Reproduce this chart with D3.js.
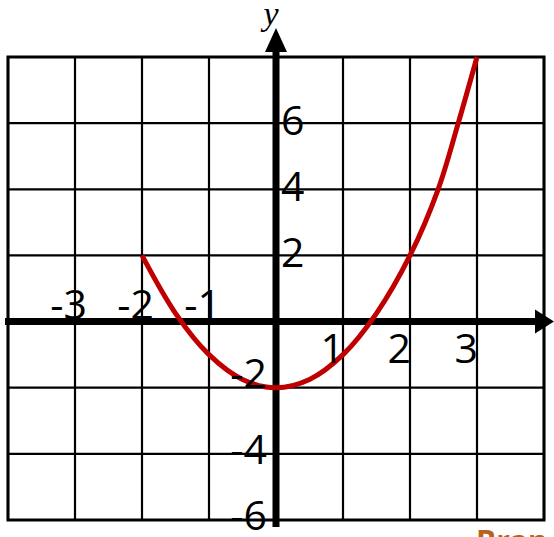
<!DOCTYPE html>
<html>
<head>
<meta charset="utf-8">
<script src="https://cdn.jsdelivr.net/npm/d3@7"></script>
<style>
  html, body { margin: 0; padding: 0; background: #fff; overflow: hidden; }
</style>
</head>
<body>
<div id="chart"></div>
<script>
// Grid positions (data units)
const xGrid = [-4, -3, -2, -1, 0, 1, 2, 3, 4];
const yGrid = [-6, -4, -2, 0, 2, 4, 6, 8];

// Tick labels
const xNegLabels = [-3, -2, -1];
const xPosLabels = [1, 2, 3];
const yPosLabels = [2, 4, 6];
const yNegLabels = [-2, -4, -6];

// Points
const curveX = [-2, -1.5, -1, -0.5, 0, 0.5, 1, 1.5, 2, 2.42, 2.72, 3];
const curveY = [2, 0.25, -1, -1.75, -2, -1.75, -1, 0.25, 2, 4, 6, 8];

const width = 554;
const height = 537;

const x = d3.scaleLinear().domain([-4, 4]).range([8, 544]);
const y = d3.scaleLinear().domain([-6, 8]).range([520, 57]);

const svg = d3.select("#chart").append("svg")
    .attr("width", width)
    .attr("height", height);

// Cuadrícula
const grid = svg.append("g").attr("stroke", "#000").attr("stroke-width", 2.2);
grid.selectAll("line.v")
    .data(xGrid)
    .join("line")
    .attr("class", "v")
    .attr("x1", d => x(d)).attr("x2", d => x(d))
    .attr("y1", y(8)).attr("y2", y(-6));
grid.selectAll("line.h")
    .data(yGrid)
    .join("line")
    .attr("class", "h")
    .attr("x1", x(-4)).attr("x2", x(4))
    .attr("y1", d => y(d)).attr("y2", d => y(d));
grid.append("rect")
    .attr("x", x(-4)).attr("y", y(8))
    .attr("width", x(4) - x(-4)).attr("height", y(-6) - y(8))
    .attr("fill", "none")
    .attr("stroke-width", 3);

// Ejes
const axes = svg.append("g");
axes.append("line")
    .attr("x1", 5).attr("x2", 540)
    .attr("y1", y(0)).attr("y2", y(0))
    .attr("stroke", "#000").attr("stroke-width", 7);
axes.append("path")
    .attr("d", `M${width},${y(0)} L535,${y(0) - 12} L535,${y(0) + 12} Z`)
    .attr("fill", "#000");
axes.append("line")
    .attr("x1", x(0)).attr("x2", x(0))
    .attr("y1", 48).attr("y2", 527)
    .attr("stroke", "#000").attr("stroke-width", 7);
axes.append("path")
    .attr("d", `M${x(0)},28 L${x(0) - 11},52 L${x(0) + 11},52 Z`)
    .attr("fill", "#000");

svg.append("text")
    .attr("x", 271).attr("y", 25)
    .attr("text-anchor", "middle")
    .attr("font-family", "'Liberation Serif', 'DejaVu Serif', serif")
    .attr("font-style", "italic")
    .attr("font-size", 34)
    .text("y");

// Curva
const line = d3.line()
    .x(d => x(d[0]))
    .y(d => y(d[1]))
    .curve(d3.curveCatmullRom.alpha(0.5));

svg.append("path")
    .datum(d3.zip(curveX, curveY))
    .attr("d", line)
    .attr("fill", "none")
    .attr("stroke", "#c00000")
    .attr("stroke-width", 5)
    .attr("stroke-linecap", "butt");

// Etiquetas
const font = "'Open Sans', sans-serif";
const labels = svg.append("g")
    .attr("font-family", font)
    .attr("font-size", 41)
    .attr("fill", "#000");

labels.selectAll("text.xn")
    .data(xNegLabels)
    .join("text")
    .attr("class", "xn")
    .attr("x", d => x(d) + 12)
    .attr("y", y(0) - 3)
    .attr("text-anchor", "end")
    .text(d => d);

labels.selectAll("text.xp")
    .data(xPosLabels)
    .join("text")
    .attr("class", "xp")
    .attr("x", d => x(d) + 1)
    .attr("y", y(0) + 41)
    .attr("text-anchor", "end")
    .text(d => d);

labels.selectAll("text.yp")
    .data(yPosLabels)
    .join("text")
    .attr("class", "yp")
    .attr("x", x(0) + 5)
    .attr("y", d => y(d) + 12)
    .attr("text-anchor", "start")
    .text(d => d);

labels.selectAll("text.yn")
    .data(yNegLabels)
    .join("text")
    .attr("class", "yn")
    .attr("x", x(0) - 9)
    .attr("y", d => y(d) + (d === -2 ? 0 : 10))
    .attr("text-anchor", "end")
    .text(d => d);

// Marca de agua recortada
svg.append("text")
    .attr("x", 476).attr("y", 552)
    .attr("font-family", "'Open Sans', sans-serif")
    .attr("font-weight", "bold")
    .attr("font-size", 30)
    .attr("fill", "#b8621b")
    .text("Bran");
</script>
</body>
</html>
